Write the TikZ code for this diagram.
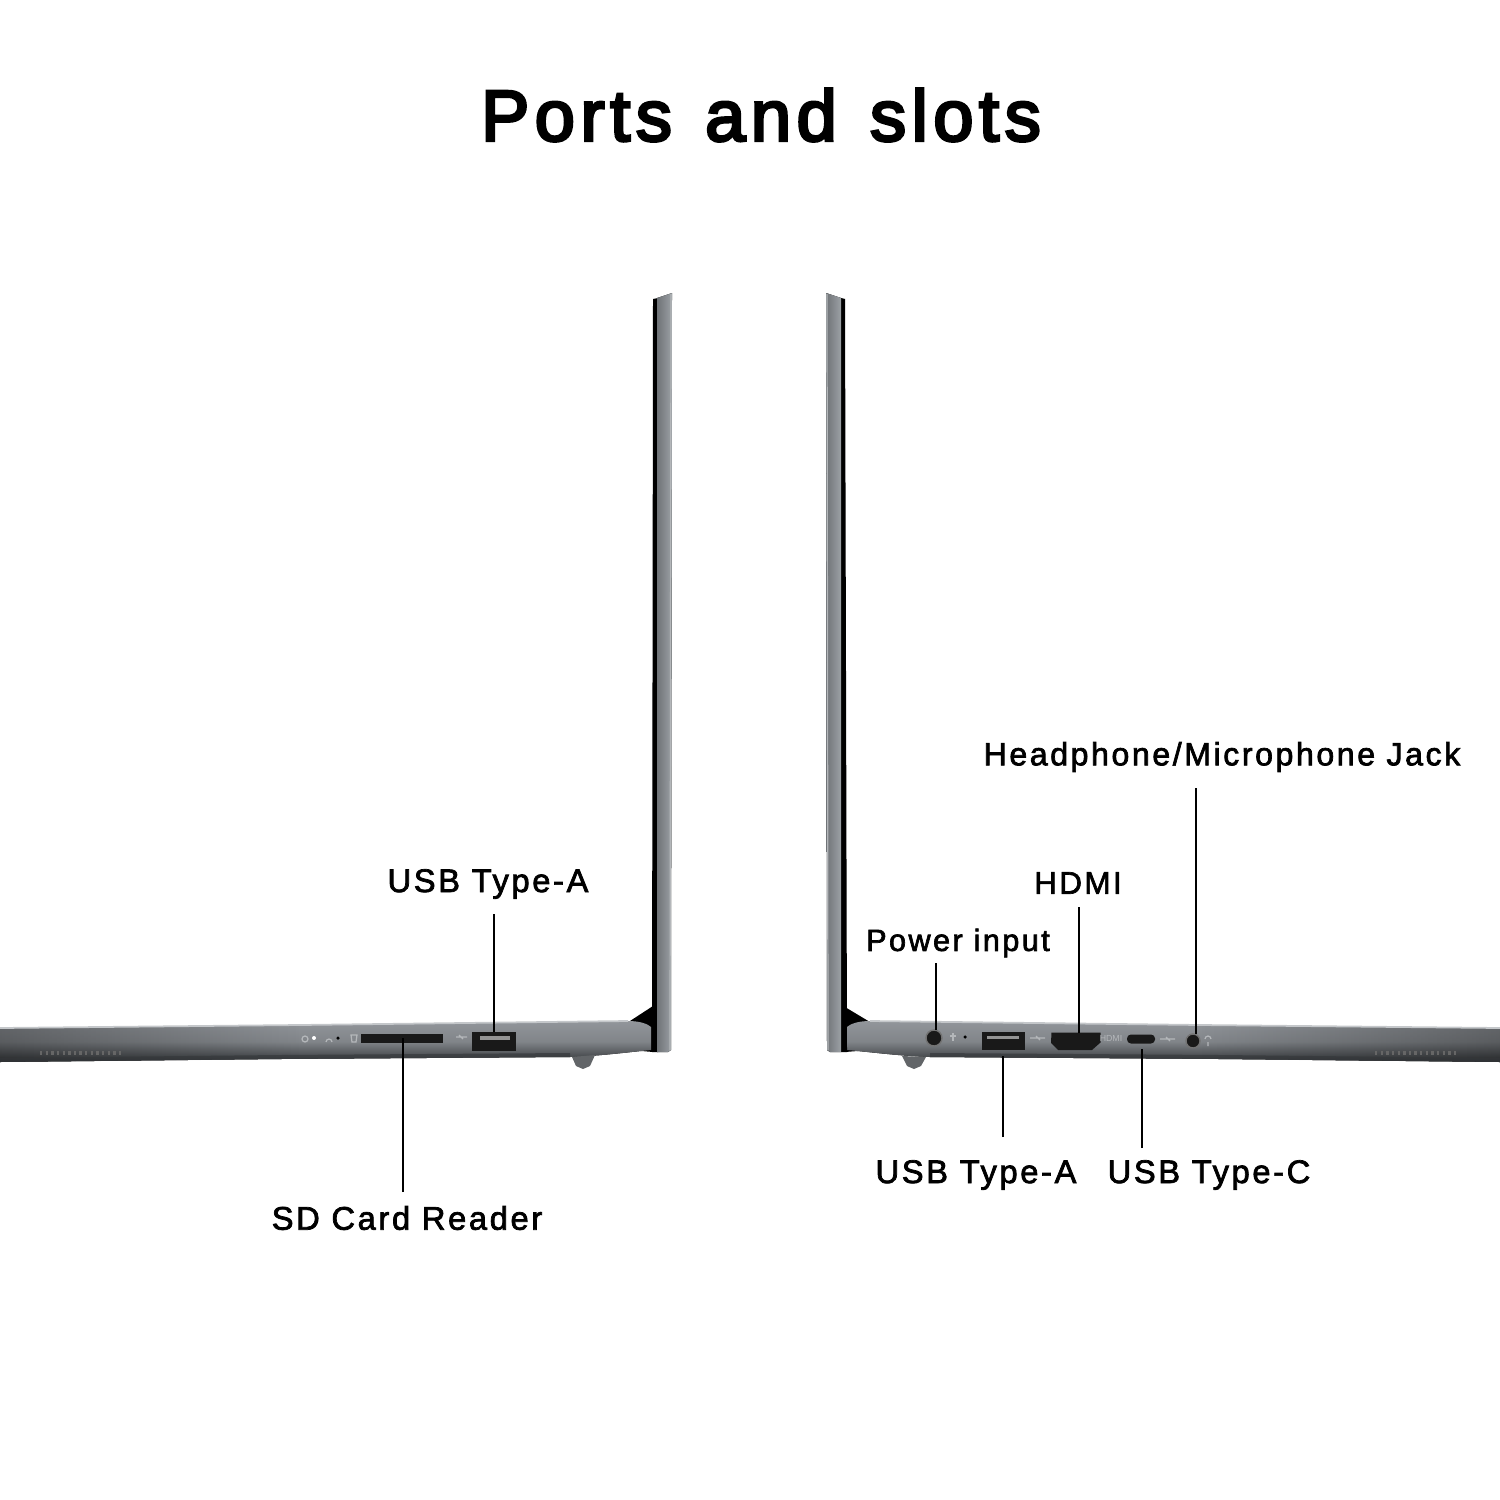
\documentclass[tikz,border=0pt]{standalone}
\usepackage{fontspec}
\usepackage{xcolor}
\usetikzlibrary{positioning,calc,fadings}
\setmainfont{Liberation Sans}
\newfontfamily\titlefont[LetterSpace=7.8,FakeBold=4,WordSpace=1.3]{Liberation Sans}
\newfontfamily\tagfont[LetterSpace=8,FakeBold=2.2]{Liberation Sans}
\definecolor{lidgray}{HTML}{8B9095}
\definecolor{lidedge}{HTML}{C4C7CA}
\definecolor{deckgray}{HTML}{8C9095}
\definecolor{deckdark}{HTML}{34373A}
\definecolor{markgray}{HTML}{B4B7BA}

\begin{document}
\begin{tikzpicture}[
  x=0.01cm, y=-0.01cm,
  every node/.style={inner sep=0pt, outer sep=0pt},
  tag/.style={font=\tagfont\fontsize{#1}{11}\selectfont, text=black, anchor=center},
  tag/.default=9.1,
  leader/.style={draw=black, line width=0.55pt},
  lid/.style={left color=lidgray!80!black, right color=lidgray!85!white, draw=none},
  deck/.style={top color=deckgray!95!white, bottom color=deckdark, middle color=deckgray!92!black, draw=none},
  slot/.style={fill=black!90, draw=none},
  socket/.style={circle, fill=black!90, draw=black!55},
  pin/.style={fill=black!42},
  etch/.style={draw=markgray, line width=0.35pt},
  rim/.style={draw=lidedge, line width=0.5pt},
  grille/.style={draw=black!60, line width=1.1pt, dash pattern=on 0.7pt off 0.9pt}
]
\useasboundingbox (0,0) rectangle (1500,1500);

% title
\node[font=\titlefont\fontsize{20.5}{24}\selectfont] (heading) at (761,115) {Ports and slots};

% left laptop
\fill[black] (630,1021) -- (653,1006) -- (653,1052) -- (630,1050) -- cycle;
\fill[deck] (0,1028) -- (300,1025) -- (628,1021) .. controls (640,1021) and (648,1024) .. (651,1027) -- (651,1050) .. controls (630,1052) and (600,1056) .. (570,1057) -- (280,1059) -- (0,1062) -- cycle;
\fill[black, opacity=0.3, path fading=east] (0,1028) -- (300,1025) -- (300,1059) -- (0,1062) -- cycle;
\fill[deckdark, opacity=0.65] (0,1058) -- (280,1055) -- (570,1053) -- (570,1057) -- (280,1059) -- (0,1062) -- cycle;
\draw[rim] (0,1028) -- (300,1025) -- (628,1021);
\fill[deckgray!70!black] (572,1057) -- (595,1055) -- (590,1066) -- (583,1069) -- (576,1066) -- cycle;
\fill[black] (653,299) -- (658,298) -- (658,1052) -- (652,1052) -- cycle;
\fill[lid] (657,298) -- (672,293) -- (671,1050) -- (668,1052) -- (657,1052) -- cycle;
\draw[etch] (671,294) -- (670,1050);
\draw[grille] (40,1053) -- (122,1053);

% left ports
\node[slot, minimum width=0.81cm, minimum height=0.09cm] (sdslot) at (402,1038) {};
\node[slot, minimum width=0.43cm, minimum height=0.19cm] (usbleft) at (494,1041) {};
\fill[pin] (480,1036) rectangle (510,1040);
\node[circle, fill=white, minimum size=0.04cm] (ledleft) at (314,1038) {};
\node[circle, fill=black, minimum size=0.035cm] (dotleft) at (338,1038) {};
\draw[etch] (305,1039) circle (3);
\draw[etch] (326,1042) arc[start angle=180, end angle=360, radius=3];
\draw[etch] (351,1035) -- (357,1035) -- (356,1042) -- (352,1042) -- cycle;
\draw[etch] (456,1037) -- (467,1037) (459,1035) -- (463,1039);

% right laptop
\fill[black] (845,1007) -- (870,1022) -- (870,1050) -- (845,1052) -- cycle;
\fill[deck] (1500,1028) -- (1200,1025) -- (870,1021) .. controls (858,1021) and (850,1024) .. (847,1027) -- (847,1050) .. controls (870,1052) and (900,1056) .. (930,1057) -- (1220,1059) -- (1500,1062) -- cycle;
\fill[black, opacity=0.3, path fading=west] (1500,1028) -- (1200,1025) -- (1200,1059) -- (1500,1062) -- cycle;
\fill[deckdark, opacity=0.65] (1500,1058) -- (1220,1055) -- (930,1053) -- (930,1057) -- (1220,1059) -- (1500,1062) -- cycle;
\draw[rim] (1500,1028) -- (1200,1025) -- (870,1021);
\fill[deckgray!70!black] (902,1056) -- (926,1057) -- (921,1066) -- (914,1069) -- (907,1066) -- cycle;
\fill[black] (845,299) -- (841,298) -- (841,1052) -- (847,1052) -- cycle;
\fill[lid] (841,298) -- (826,293) -- (827,1050) -- (830,1052) -- (841,1052) -- cycle;
\draw[etch] (827,294) -- (828,1050);
\draw[grille] (1375,1053) -- (1457,1053);

% right ports
\node[socket, minimum size=0.16cm] (powerjack) at (934,1038) {};
\node[circle, fill=black, minimum size=0.035cm] (dotright) at (965,1037) {};
\draw[etch] (953,1033) -- (953,1041) (950,1036) -- (956,1036);
\node[slot, minimum width=0.43cm, minimum height=0.18cm] (usbright) at (1003,1041) {};
\fill[pin] (987,1036) rectangle (1019,1039);
\draw[etch] (1030,1038) -- (1045,1038) (1036,1036) -- (1040,1040);
\node[minimum width=0.49cm, minimum height=0.17cm] (hdmi) at (1076,1041) {};
\fill[slot] (hdmi.north west) -- (hdmi.north east) -- ++(0,10) -- (1092,1050) -- (1058,1050) -- (1051,1043) -- cycle;
\node[font=\fontsize{2.5}{3}\selectfont, text=markgray] (hdmimark) at (1111,1038) {HDMI};
\node[slot, rounded corners=0.04cm, minimum width=0.28cm, minimum height=0.09cm] (usbc) at (1141,1039) {};
\draw[etch] (1160,1039) -- (1175,1039) (1166,1037) -- (1170,1041);
\node[socket, minimum size=0.14cm] (audiojack) at (1193,1041) {};
\draw[etch] (1205,1039) arc[start angle=180, end angle=360, radius=3] (1208,1042) -- (1208,1046);

% labels
\node[tag=9.3] (usbleftlabel) at (488,884) {USB Type-A};
\node[tag=9.3] (sdlabel) at (407,1218) {SD Card Reader};
\node[tag=9.13] (audiolabel) at (1222,757) {Headphone/Microphone Jack};
\node[tag=8.9] (hdmilabel) at (1078,883) {HDMI};
\node[tag=8.7] (powerlabel) at (958,943) {Power input};
\node[tag=9.3] (usbrightlabel) at (976,1175) {USB Type-A};
\node[tag=9.3] (usbclabel) at (1209,1175) {USB Type-C};

% leader ends above and below the deck
\coordinate (usblefttop) at (494,914);
\coordinate (sdbottom) at (403,1192);
\coordinate (powertop) at (936,963);
\coordinate (hdmitop) at (1079,907);
\coordinate (audiotop) at (1196,788);
\coordinate (usbrightbottom) at (1003,1137);
\coordinate (usbcbottom) at (1142,1148);

\draw[leader] (usblefttop) -- (usblefttop |- usbleft.north);
\draw[leader] (sdbottom) -- (sdbottom |- sdslot.center);
\draw[leader] (powertop) -- (powertop |- powerjack.north);
\draw[leader] (hdmitop) -- (hdmitop |- hdmi.north);
\draw[leader] (audiotop) -- (audiotop |- audiojack.north);
\draw[leader] (usbrightbottom) -- ($(usbrightbottom |- usbright.south)+(0,6)$);
\draw[leader] (usbcbottom) -- ($(usbcbottom |- usbc.south)+(0,5)$);
\end{tikzpicture}
\end{document}
